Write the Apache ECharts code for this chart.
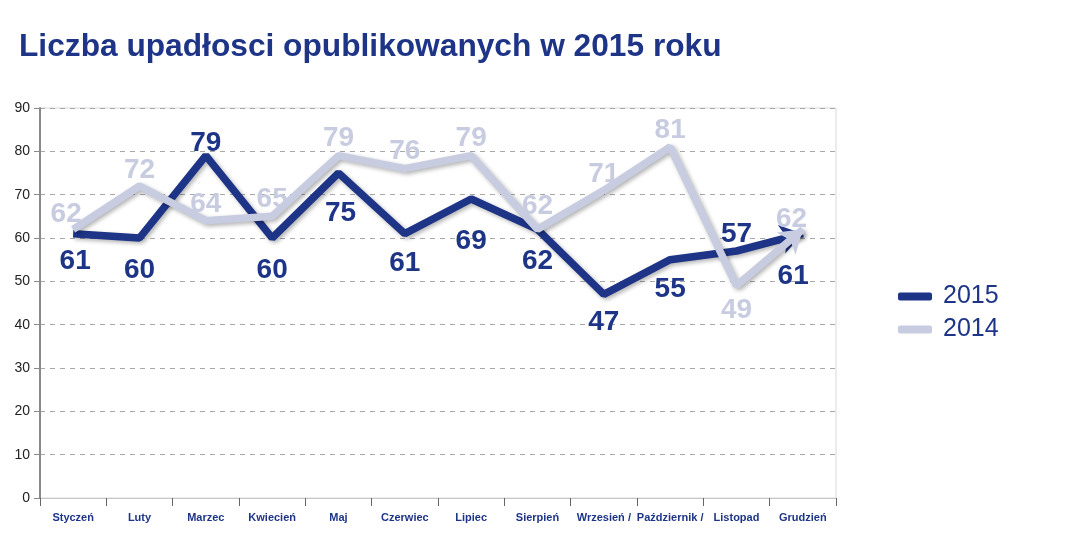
<!DOCTYPE html>
<html>
<head>
<meta charset="UTF-8">
<title>Liczba upadłosci</title>
<script src="https://cdn.jsdelivr.net/npm/echarts@6/dist/echarts.min.js"></script>
<style>
  html, body { margin: 0; padding: 0; background: #fff; }
  #chart { width: 1068px; height: 534px; }
</style>
</head>
<body>
<div id="chart"></div>
<script>
// dane
var months = ['Styczeń', 'Luty', 'Marzec', 'Kwiecień', 'Maj', 'Czerwiec', 'Lipiec',
              'Sierpień', 'Wrzesień /', 'Październik /', 'Listopad', 'Grudzień'];
var values2015 = [61, 60, 79, 60, 75, 61, 69, 62, 47, 55, 57, 61];
var values2014 = [62, 72, 64, 65, 79, 76, 79, 62, 71, 81, 49, 62];
var yTicks = [0, 10, 20, 30, 40, 50, 60, 70, 80, 90];

// przesuniecie etykiet wzgledem punktu (px)
var dy2015 = [28, 32, -12, 32, 40, 30, 42, 32, 28, 30, -17, 40];
var dx2015 = [2, 0, 0, 0, 2, 0, 0, 0, 0, 0, 0, 1];
var dy2014 = [-15, -16, -16, -17, -17, -17, -17, -23, -16, -17, 25, -17];
var dx2014 = [-7, 0, 0, 0, 0, 0, 0, 0, 0, 0, 0, -3];

var navy = '#1d3487';
var light = '#c8cce0';

function buildData(vals, dx, dy, rot) {
    var out = [];
    for (var i = 0; i < vals.length; i++) {
        var item = { value: vals[i], label: { position: 'inside', offset: [dx[i], dy[i]] } };
        if (i == vals.length - 1) {
            item.symbol = 'arrow';
            item.symbolSize = [22, 22];
            item.symbolRotate = rot || 0;
        }
        out.push(item);
    }
    return out;
}

function makeSeries(name, vals, dx, dy, color, rot) {
    return {
        name: name,
        type: 'line',
        data: buildData(vals, dx, dy, rot),
        symbol: 'circle',
        symbolSize: 0.1,
        showSymbol: true,
        showAllSymbol: true,
        itemStyle: { color: color },
        lineStyle: {
            width: 7.5, color: color,
            shadowColor: 'rgba(0,0,0,0.3)', shadowBlur: 4, shadowOffsetX: 2, shadowOffsetY: 2
        },
        label: {
            show: true,
            color: color,
            fontSize: 28,
            fontWeight: 'bold',
            fontFamily: 'Liberation Sans, Arial, sans-serif'
        },
        emphasis: { disabled: true },
        z: name == '2014' ? 3 : 2
    };
}

var chart = echarts.init(document.getElementById('chart'));

function option(rot15, rot14) {
    return {
        animation: false,
        title: {
            text: 'Liczba upadłosci opublikowanych w 2015 roku',
            left: 14, top: 26,
            textStyle: { fontSize: 31.7, fontWeight: 'bold', color: navy, fontFamily: 'Liberation Sans, Arial, sans-serif' }
        },
        legend: {
            orient: 'vertical',
            left: 893, top: 279,
            itemWidth: 34, itemHeight: 8, itemGap: 8,
            icon: 'roundRect',
            data: ['2015', '2014'],
            textStyle: { fontSize: 25, color: navy, fontFamily: 'Liberation Sans, Arial, sans-serif', padding: [0, 0, 0, 6] }
        },
        grid: {
            left: 40, right: 232, top: 108, bottom: 36,
            show: true, borderColor: '#d8d8d8', borderWidth: 1
        },
        xAxis: {
            type: 'category',
            data: months,
            boundaryGap: true,
            axisLine: { lineStyle: { color: '#c8c8c8', width: 1 } },
            axisTick: { show: true, length: 8, lineStyle: { color: '#666', width: 1 } },
            axisLabel: {
                interval: 0, margin: 14,
                color: navy, fontSize: 11, fontWeight: 'bold',
                fontFamily: 'Liberation Sans, Arial, sans-serif'
            }
        },
        yAxis: {
            type: 'value',
            min: yTicks[0], max: yTicks[yTicks.length - 1], interval: 10,
            axisLine: { show: true, lineStyle: { color: '#8a8a8a', width: 2 } },
            axisTick: { show: true, length: 6, lineStyle: { color: '#8a8a8a' } },
            axisLabel: { color: '#222', fontSize: 14, margin: 10, fontFamily: 'Liberation Sans, Arial, sans-serif' },
            splitLine: { lineStyle: { type: [5, 5], color: '#a8a8a8', width: 1 } }
        },
        series: [
            makeSeries('2015', values2015, dx2015, dy2015, navy, rot15),
            makeSeries('2014', values2014, dx2014, dy2014, light, rot14)
        ]
    };
}

chart.setOption(option(0, 0));

// obrot strzalki wedlug kierunku ostatniego odcinka
function arrowRot(vals) {
    var n = vals.length;
    var a = chart.convertToPixel({ gridIndex: 0 }, [n - 2, vals[n - 2]]);
    var b = chart.convertToPixel({ gridIndex: 0 }, [n - 1, vals[n - 1]]);
    var ang = Math.atan2(-(b[1] - a[1]), b[0] - a[0]) * 180 / Math.PI;
    return ang - 90;
}
chart.setOption(option(arrowRot(values2015), arrowRot(values2014)), true);
</script>
</body>
</html>
